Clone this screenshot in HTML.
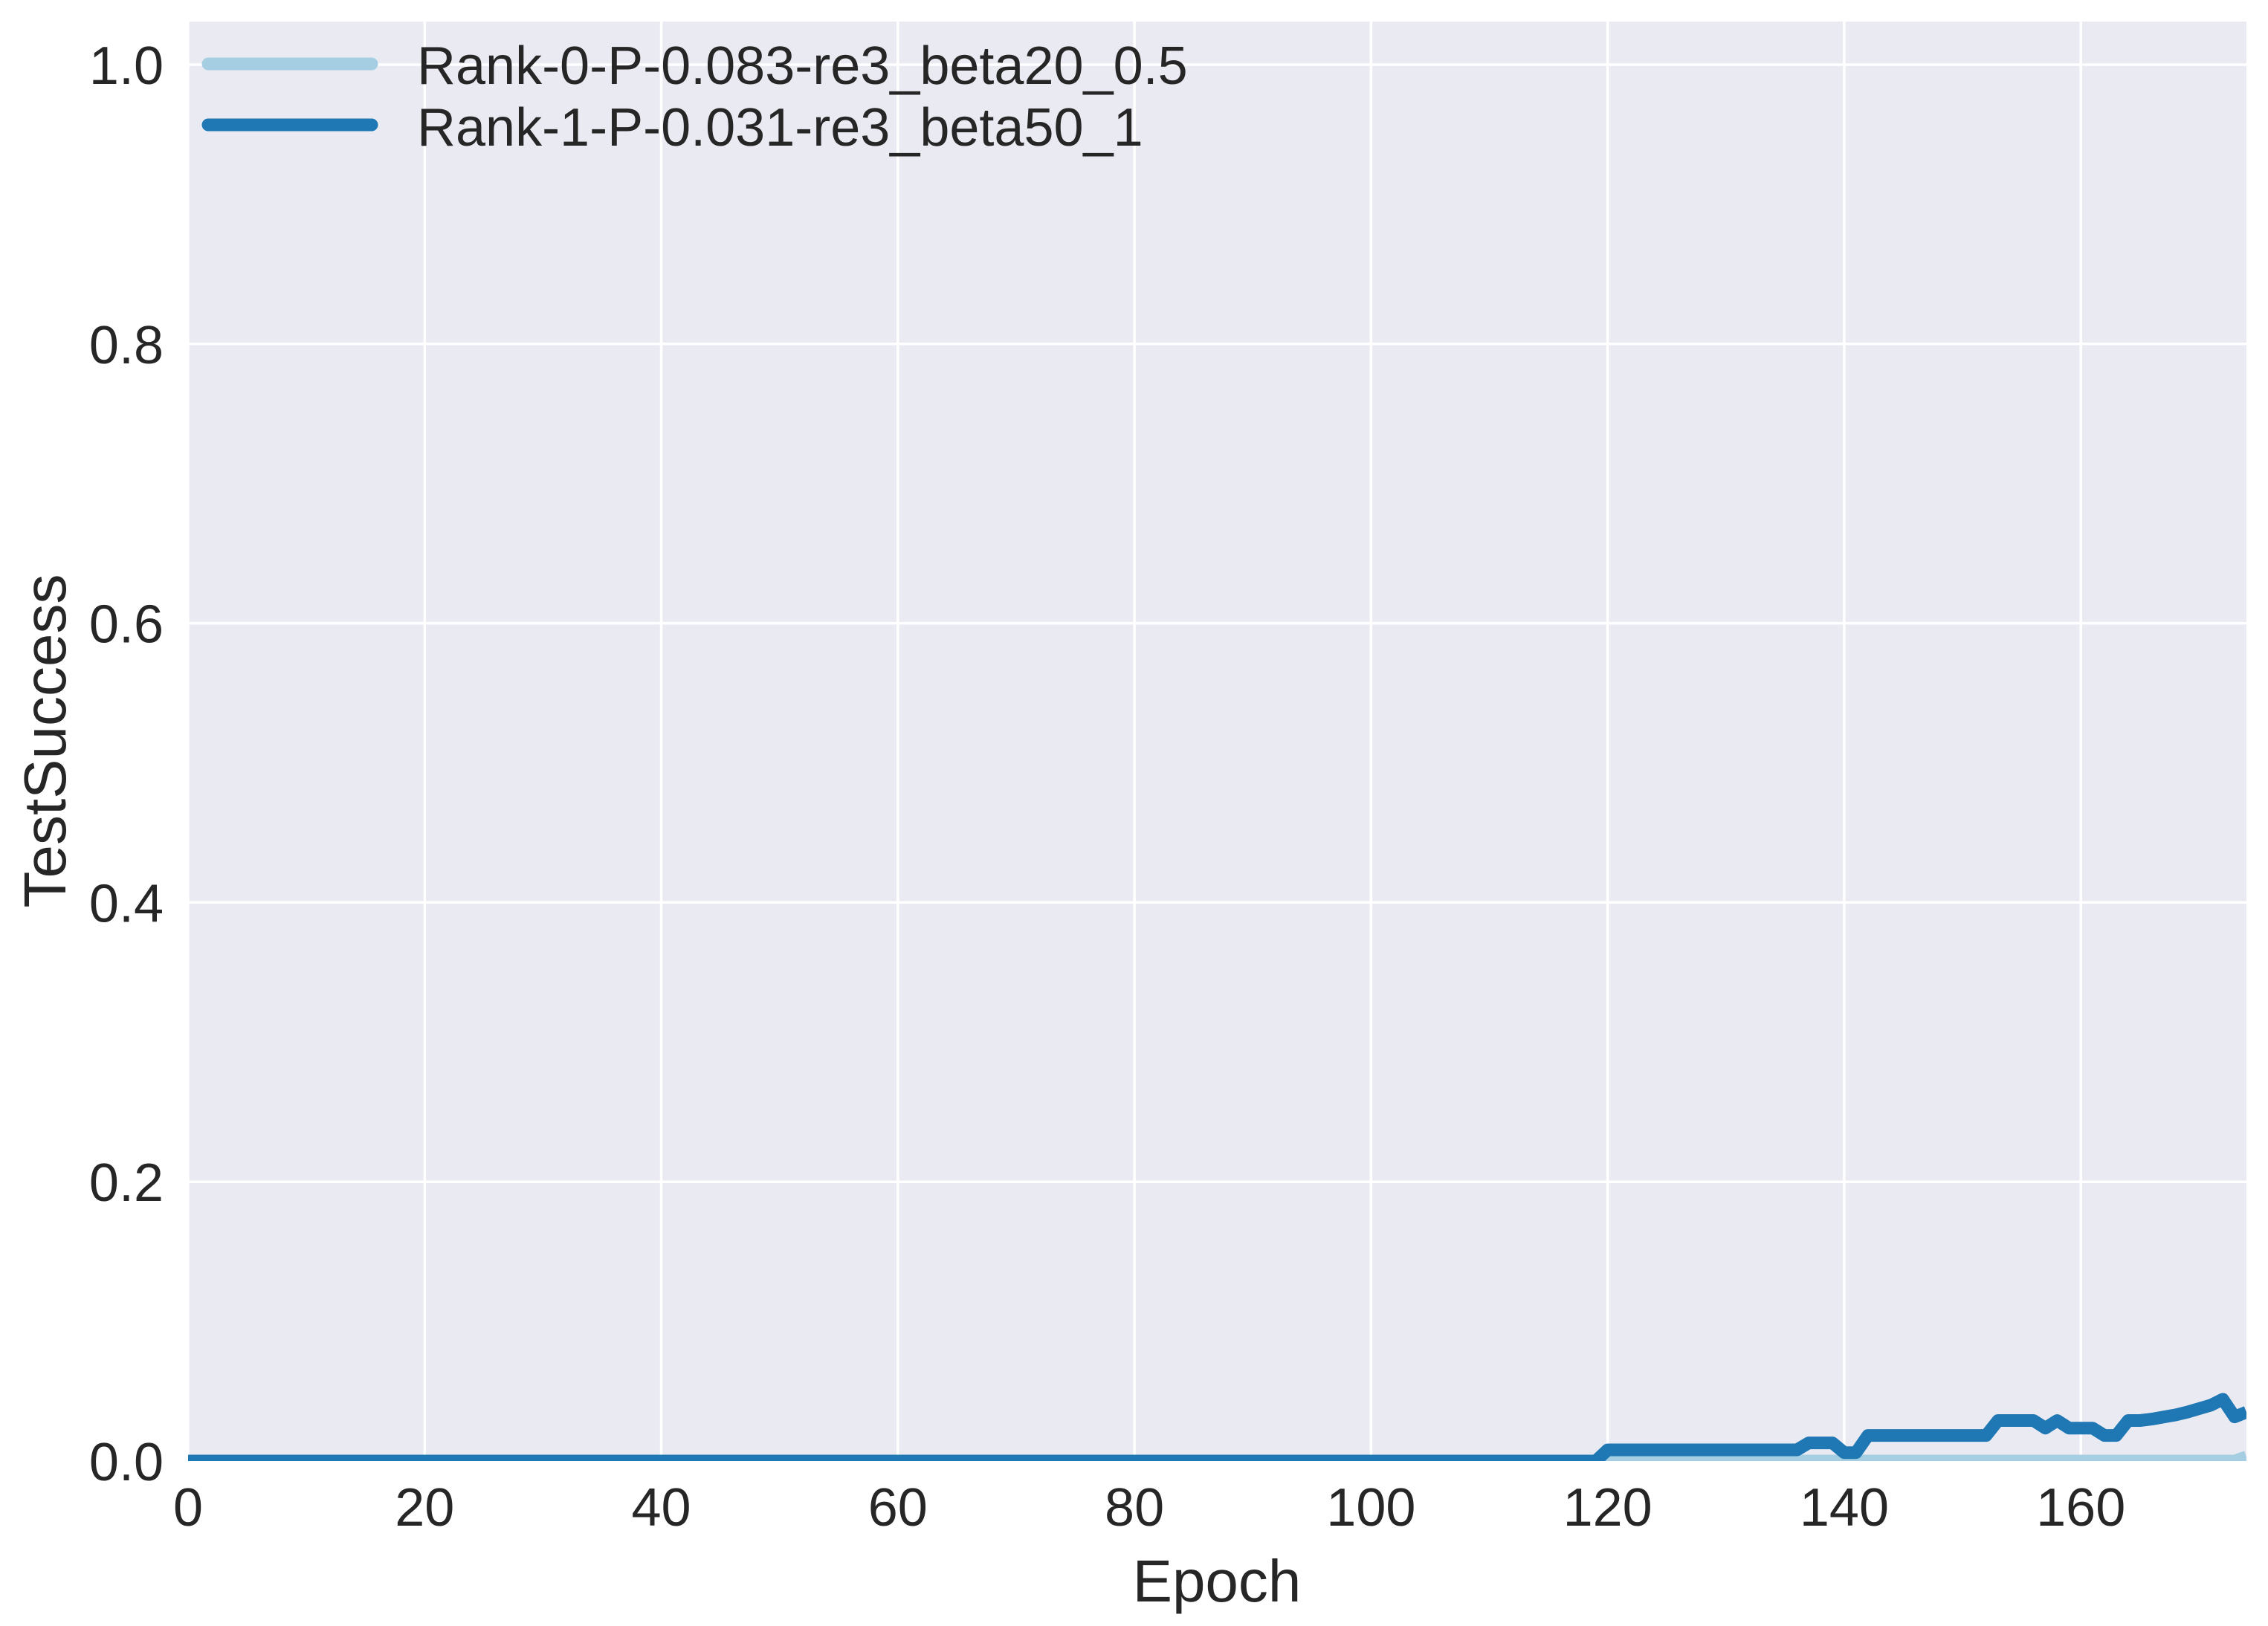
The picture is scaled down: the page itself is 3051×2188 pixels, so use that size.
<!DOCTYPE html>
<html><head><meta charset="utf-8">
<style>
html,body{margin:0;padding:0;background:#fff;}
svg{display:block;font-family:"Liberation Sans",Arial,sans-serif;}
</style></head>
<body>
<svg id="chart" width="3051" height="2188" viewBox="0 0 3051 2188" xmlns="http://www.w3.org/2000/svg">
<rect x="253" y="29" width="2769" height="1937" fill="#eaeaf2"/>
<g id="grid"></g>
<g id="series"></g>
<g id="xticks"></g>
<g id="yticks"></g>
<text x="1637" y="2155" font-size="80" fill="#262626" text-anchor="middle">Epoch</text>
<text x="0" y="0" font-size="80" fill="#262626" text-anchor="middle" transform="translate(88,997) rotate(-90)">TestSuccess</text>
<g>
<line x1="280" y1="86" x2="500" y2="86" stroke="#a6cee3" stroke-width="17" stroke-linecap="round"/>
<text x="561" y="113" font-size="72" fill="#262626">Rank-0-P-0.083-re3_beta20_0.5</text>
<line x1="280" y1="168" x2="500" y2="168" stroke="#1f78b4" stroke-width="17" stroke-linecap="round"/>
<text x="561" y="196" font-size="72" fill="#262626">Rank-1-P-0.031-re3_beta50_1</text>
</g>
</svg>
<script>
const xTicks = [0, 20, 40, 60, 80, 100, 120, 140, 160];
const yTicks = [0.0, 0.2, 0.4, 0.6, 0.8, 1.0];
const yTickLabels = ["0.0", "0.2", "0.4", "0.6", "0.8", "1.0"];
const rank0Values = [
0,0,0,0,0,0,0,0,0,0, 0,0,0,0,0,0,0,0,0,0,
0,0,0,0,0,0,0,0,0,0, 0,0,0,0,0,0,0,0,0,0,
0,0,0,0,0,0,0,0,0,0, 0,0,0,0,0,0,0,0,0,0,
0,0,0,0,0,0,0,0,0,0, 0,0,0,0,0,0,0,0,0,0,
0,0,0,0,0,0,0,0,0,0, 0,0,0,0,0,0,0,0,0,0,
0,0,0,0,0,0,0,0,0,0, 0,0,0,0,0,0,0,0,0,0,
0,0,0,0,0,0,0,0,0,0, 0,0,0,0,0,0,0,0,0,0,
0,0,0,0,0,0,0,0,0,0, 0,0,0,0,0,0,0,0,0,0,
0,0,0,0,0,0,0,0,0,0, 0,0,0,0,0.003
];
const rank1Values = [
0,0,0,0,0,0,0,0,0,0, 0,0,0,0,0,0,0,0,0,0,
0,0,0,0,0,0,0,0,0,0, 0,0,0,0,0,0,0,0,0,0,
0,0,0,0,0,0,0,0,0,0, 0,0,0,0,0,0,0,0,0,0,
0,0,0,0,0,0,0,0,0,0, 0,0,0,0,0,0,0,0,0,0,
0,0,0,0,0,0,0,0,0,0, 0,0,0,0,0,0,0,0,0,0,
0,0,0,0,0,0,0,0,0,0, 0,0,0,0,0,0,0,0,0,0.0,
0.008,0.008,0.008,0.008,0.008,0.008,0.008,0.008,0.008,0.008, 0.008,0.008,0.008,0.008,0.008,0.008,0.008,0.013,0.013,0.013,
0.006,0.006,0.0183,0.0183,0.0183,0.0183,0.0183,0.0183,0.0183,0.0183, 0.0183,0.0183,0.0183,0.029,0.029,0.029,0.029,0.0236,0.029,0.0236,
0.0236,0.0236,0.0183,0.0183,0.029,0.029,0.030,0.0315,0.033,0.035, 0.0375,0.040,0.0442,0.0316,0.035
];
const X0 = 253, X1 = 3022, XMIN = 0, XMAX = 174;
const Y0 = 1966, YTOP = 29, YMIN = 0, YPX = 1879;
function xs(v){ return X0 + (v - XMIN) / (XMAX - XMIN) * (X1 - X0); }
function ys(v){ return Y0 - (v - YMIN) * YPX; }
const NS = "http://www.w3.org/2000/svg";
const grid = document.getElementById('grid');
const xt = document.getElementById('xticks');
const yt = document.getElementById('yticks');
xTicks.forEach(t => {
  const l = document.createElementNS(NS, 'line');
  l.setAttribute('x1', xs(t)); l.setAttribute('x2', xs(t));
  l.setAttribute('y1', YTOP); l.setAttribute('y2', Y0);
  l.setAttribute('stroke', '#fff'); l.setAttribute('stroke-width', '3.5');
  
  
  grid.appendChild(l);
  const tx = document.createElementNS(NS, 'text');
  tx.setAttribute('x', xs(t)); tx.setAttribute('y', 2053);
  tx.setAttribute('font-size', '72'); tx.setAttribute('fill', '#262626');
  tx.setAttribute('text-anchor', 'middle');
  tx.textContent = String(t);
  
  
  xt.appendChild(tx);
});
yTicks.forEach((t, i) => {
  const l = document.createElementNS(NS, 'line');
  l.setAttribute('x1', X0); l.setAttribute('x2', X1);
  l.setAttribute('y1', ys(t)); l.setAttribute('y2', ys(t));
  l.setAttribute('stroke', '#fff'); l.setAttribute('stroke-width', '3.5');
  
  
  grid.appendChild(l);
  const tx = document.createElementNS(NS, 'text');
  tx.setAttribute('x', 220); tx.setAttribute('y', ys(t) + 26);
  tx.setAttribute('font-size', '72'); tx.setAttribute('fill', '#262626');
  tx.setAttribute('text-anchor', 'end');
  tx.textContent = yTickLabels[i];
  
  
  yt.appendChild(tx);
});
const series = document.getElementById('series');
const clip = document.createElementNS(NS, 'clipPath');
clip.setAttribute('id', 'plotclip');
const cr = document.createElementNS(NS, 'rect');
cr.setAttribute('x', X0); cr.setAttribute('y', YTOP);
cr.setAttribute('width', X1 - X0); cr.setAttribute('height', Y0 - YTOP);
clip.appendChild(cr);
series.appendChild(clip);
function drawLine(vals, color, name){
  const p = document.createElementNS(NS, 'polyline');
  p.setAttribute('points', vals.map((v, i) => xs(i).toFixed(1) + ',' + ys(v).toFixed(1)).join(' '));
  p.setAttribute('fill', 'none'); p.setAttribute('stroke', color);
  p.setAttribute('stroke-width', '17'); p.setAttribute('stroke-linejoin', 'round');
  p.setAttribute('clip-path', 'url(#plotclip)');
  
  
  series.appendChild(p);
}
drawLine(rank0Values, '#a6cee3', 'line-rank-0');
drawLine(rank1Values, '#1f78b4', 'line-rank-1');
</script>
</body></html>
